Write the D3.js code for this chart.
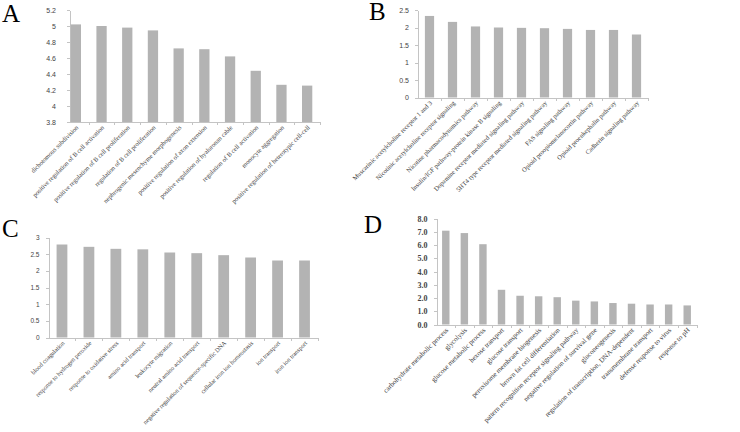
<!DOCTYPE html>
<html lang="en">
<head>
<meta charset="utf-8">
<title>GO enrichment panels</title>
<style>
  html, body { margin: 0; padding: 0; background: #fff; }
  svg { display: block; }
  .letter { font-family: "Liberation Serif", "DejaVu Serif", serif; fill: #000; }
  .axis path, .axis line { stroke: #c4c4c4; shape-rendering: crispEdges; }
  .bar { fill: #b3b3b3; }
</style>
</head>
<body>
<svg id="chart"></svg>
<script src="https://d3js.org/d3.v7.min.js"></script>
<script>
// ---- data ----
let catsA = ["dichotomous subdivision", "positive regulation of B cell activation",
  "positive regulation of B cell proliferation", "regulation of B cell proliferation",
  "nephrogenic mesenchyme morphogenesis", "positive regulation of axon extension",
  "positive regulation of hyaluronan cable", "regulation of B cell activation",
  "monocyte aggregation", "positive regulation of heterotypic cell-cell"];
let valsA = [5.02, 5.00, 4.98, 4.945, 4.72, 4.71, 4.62, 4.44, 4.265, 4.255];
let ticksA = [3.8, 4, 4.2, 4.4, 4.6, 4.8, 5, 5.2];

let catsB = ["Muscarinic acetylcholine receptor 1 and 3", "Nicotinic acetylcholine receptor signaling",
  "Nicotine pharmacodynamics pathway", "Insulin/IGF pathway-protein kinase B signaling",
  "Dopamine receptor mediated signaling pathway", "5HT4 type receptor mediated signaling pathway",
  "FAS signaling pathway", "Opioid proopiomelanocortin pathway",
  "Opioid proenkephalin pathway", "Cadherin signaling pathway"];
let valsB = [2.33, 2.16, 2.03, 2.00, 1.99, 1.98, 1.96, 1.93, 1.93, 1.80];
let ticksB = [0, 0.5, 1, 1.5, 2, 2.5];

let catsC = ["blood coagulation", "response to hydrogen peroxide", "response to oxidative stress",
  "amino acid transport", "leukocyte migration", "neutral amino acid transport",
  "negative regulation of sequence-specific DNA", "cellular iron ion homeostasis",
  "ion transport", "iron ion transport"];
let valsC = [2.79, 2.72, 2.66, 2.645, 2.55, 2.53, 2.47, 2.40, 2.31, 2.31];
let ticksC = [0, 0.5, 1, 1.5, 2, 2.5, 3];

let catsD = ["carbohydrate metabolic process", "glycolysis", "glucose metabolic process",
  "hexose transport", "glucose transport", "peroxisome membrane biogenesis",
  "brown fat cell differentiation", "pattern recognition receptor signaling pathway",
  "negative regulation of survival gene", "gluconeogenesis",
  "regulation of transcription, DNA-dependent", "transmembrane transport",
  "defense response to virus", "response to pH"];
let valsD = [7.08, 6.9, 6.06, 2.62, 2.17, 2.13, 2.06, 1.8, 1.74, 1.62, 1.57, 1.51, 1.51, 1.44];
let ticksD = [0, 1, 2, 3, 4, 5, 6, 7, 8];

// define dimensions of SVG
let w = 740, h = 432;
let svg = d3.select("#chart").attr("width", w).attr("height", h);

let sans = "'Liberation Sans', Arial, sans-serif";
let serif = "'Liberation Serif', 'DejaVu Serif', serif";

// one panel: letter, y axis, bars, rotated category labels
function drawPanel(p) {
  let g = svg.append("g");

  g.append("text").attr("class", "letter")
    .attr("x", p.letterX).attr("y", p.letterY)
    .style("font-size", "25px")
    .text(p.letter);

  let x = d3.scaleBand().domain(p.cats).range([p.x0, p.x1]);
  let y = d3.scaleLinear().domain(p.domain).range([p.yb, p.yt]);

  // y axis
  let ya = g.append("g").attr("class", "axis")
    .attr("transform", `translate(${p.ax},0)`)
    .call(d3.axisLeft(y).tickValues(p.ticks).tickSize(3).tickSizeOuter(0).tickPadding(p.pad)
      .tickFormat(p.fmt));
  ya.selectAll("text")
    .style("font-family", p.tickFont).style("font-size", p.tickSize + "px")
    .style("font-weight", p.tickWeight || "normal")
    .attr("fill", "#444");

  // x axis baseline with ticks between categories
  let xa = g.append("g").attr("class", "axis");
  xa.append("line").attr("x1", p.ax).attr("x2", p.x1)
    .attr("y1", p.yb + 0.5).attr("y2", p.yb + 0.5);
  xa.selectAll("line.tk").data(p.cats).enter()
    .append("line").attr("class", "tk")
    .attr("x1", d => Math.round(x(d) + x.bandwidth()) + 0.5)
    .attr("x2", d => Math.round(x(d) + x.bandwidth()) + 0.5)
    .attr("y1", p.yb).attr("y2", p.yb + 3);

  // bars
  let bw = x.bandwidth() * 0.4;
  g.selectAll("rect.bar").data(p.vals).enter()
    .append("rect").attr("class", "bar")
    .attr("x", (d, i) => x(p.cats[i]) + (x.bandwidth() - bw) / 2)
    .attr("width", bw)
    .attr("y", d => y(d))
    .attr("height", d => p.yb - y(d));

  // category labels
  g.selectAll("text.cat").data(p.cats).enter()
    .append("text").attr("class", "cat")
    .attr("transform", d => `translate(${x(d) + x.bandwidth() / 2 + 3},${p.yb + 6}) rotate(-45)`)
    .attr("text-anchor", "end")
    .style("font-family", serif)
    .style("font-size", p.catSize + "px")
    .attr("fill", "#3a3a3a")
    .text(d => d);
}

drawPanel({ letter: "A", letterX: 2, letterY: 22, cats: catsA, vals: valsA, ticks: ticksA,
  domain: [3.8, 5.2], x0: 63, x1: 320, ax: 70, yb: 122, yt: 10,
  fmt: d3.format(""), tickFont: sans, tickSize: 7, pad: 11, catSize: 6.4 });

drawPanel({ letter: "B", letterX: 369, letterY: 20, cats: catsB, vals: valsB, ticks: ticksB,
  domain: [0, 2.5], x0: 418, x1: 648, ax: 418, yb: 97.5, yt: 10,
  fmt: d3.format(""), tickFont: sans, tickSize: 7, pad: 6, catSize: 6.5 });

drawPanel({ letter: "C", letterX: 2, letterY: 237, cats: catsC, vals: valsC, ticks: ticksC,
  domain: [0, 3], x0: 48.5, x1: 318, ax: 48.5, yb: 337.5, yt: 237.5,
  fmt: d3.format(""), tickFont: sans, tickSize: 6.5, pad: 6, catSize: 6.2 });

drawPanel({ letter: "D", letterX: 364, letterY: 233, cats: catsD, vals: valsD, ticks: ticksD,
  domain: [0, 8], x0: 436.5, x1: 696.5, ax: 436.5, yb: 324.5, yt: 218.5,
  fmt: d3.format(".1f"), tickFont: serif, tickSize: 8, tickWeight: "bold", pad: 6, catSize: 7 });
</script>
</body>
</html>
